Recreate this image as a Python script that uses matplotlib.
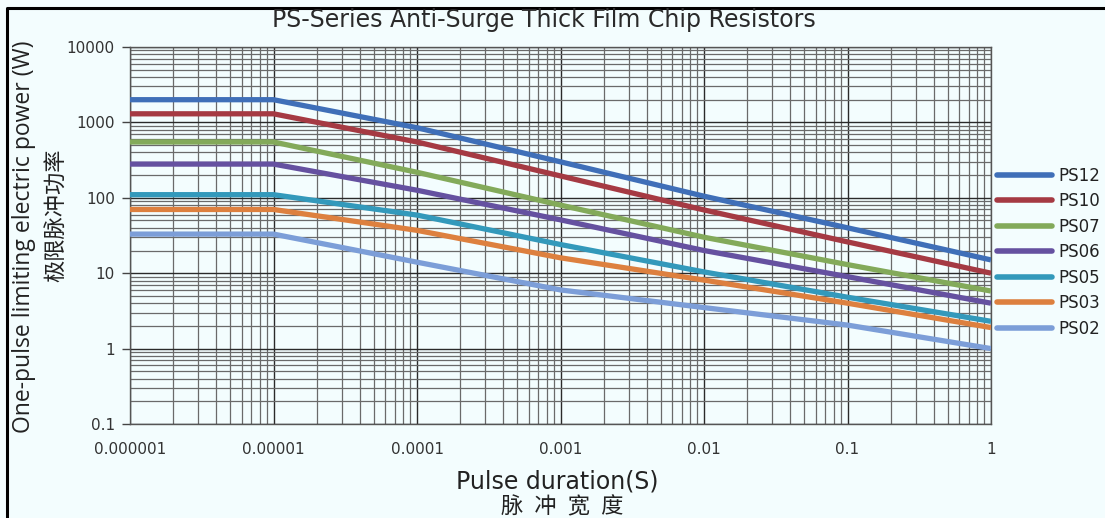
import matplotlib
matplotlib.use("Agg")
import matplotlib.pyplot as plt
from matplotlib.lines import Line2D
from matplotlib.ticker import LogLocator, FixedLocator, NullFormatter

# ---- data ----
pulse_s = [1e-6, 1e-5, 1e-4, 1e-3, 1e-2, 1e-1, 1]
PS12 = [2000, 2000, 850, 300, 105, 40, 15]
PS10 = [1300, 1300, 550, 195, 69, 26, 10]
PS07 = [550, 550, 218, 80, 30, 13, 5.8]
PS06 = [280, 280, 126, 51, 20, 9, 4]
PS05 = [110, 110, 59, 24, 10.4, 4.8, 2.3]
PS03 = [70, 70, 37, 16, 8.1, 4, 1.9]
PS02 = [33, 33, 14, 6, 3.5, 2.05, 1.0]
series_names = ["PS12", "PS10", "PS07", "PS06", "PS05", "PS03", "PS02"]
series_vals = [PS12, PS10, PS07, PS06, PS05, PS03, PS02]
colors = ["#3F6FB8", "#A53A43", "#83AA5A", "#6551A0", "#3399BB", "#DD803F", "#7C9ED8"]
x_ticks = [1e-6, 1e-5, 1e-4, 1e-3, 1e-2, 1e-1, 1]
x_ticklabels = ["0.000001", "0.00001", "0.0001", "0.001", "0.01", "0.1", "1"]
y_ticks = [0.1, 1, 10, 100, 1000, 10000]
y_ticklabels = ["0.1", "1", "10", "100", "1000", "10000"]

bg = "#F3FDFE"
W, H = 1105, 518
fig = plt.figure(figsize=(W / 100, H / 100), dpi=100, facecolor=bg)
L, R, T, B = 130, 991, 47, 424
ax = fig.add_axes([L / W, 1 - B / H, (R - L) / W, (B - T) / H], facecolor=bg)

ax.set_xscale("log")
ax.set_yscale("log")
ax.set_xlim(1e-6, 1)
ax.set_ylim(0.1, 10000)

for name, vals, c in zip(series_names, series_vals, colors):
    ax.plot(pulse_s, vals, color=c, lw=3.8, solid_joinstyle="round",
            solid_capstyle="butt", label=name, zorder=3)

ax.xaxis.set_major_locator(FixedLocator(x_ticks))
ax.yaxis.set_major_locator(FixedLocator(y_ticks))
ax.xaxis.set_minor_locator(LogLocator(base=10, subs=range(2, 10), numticks=20))
ax.yaxis.set_minor_locator(LogLocator(base=10, subs=range(2, 10), numticks=20))
ax.xaxis.set_minor_formatter(NullFormatter())
ax.yaxis.set_minor_formatter(NullFormatter())
ax.set_xticklabels(x_ticklabels, family="DejaVu Sans", fontsize=11, color="#333333")
ax.set_yticklabels(y_ticklabels, family="DejaVu Sans", fontsize=11, color="#333333")
ax.grid(True, which="major", color="#2a2a2a", lw=1.0, zorder=1)
ax.grid(True, which="minor", color="#6a6a6a", lw=0.9, zorder=1)
ax.tick_params(axis="x", which="both", length=0, pad=13)
ax.tick_params(axis="y", which="major", length=6, width=1.0, color="#444444", pad=5)
ax.tick_params(axis="y", which="minor", length=0)
for s in ax.spines.values():
    s.set_color("#555555")
    s.set_linewidth(1.0)

leg = ax.legend(loc="upper left", bbox_to_anchor=(1.007, 0.683), frameon=False,
                handlelength=3.3, handletextpad=0.38, labelspacing=0.45,
                borderaxespad=0, borderpad=0,
                prop={"family": "DejaVu Sans", "size": 12})
for h in leg.get_lines():
    h.set_linewidth(4)
    h.set_solid_capstyle("round")
for t in leg.get_texts():
    t.set_color("#222222")

# titles / labels
fig.text(544 / W, 1 - 20 / H, "PS-Series Anti-Surge Thick Film Chip Resistors",
         ha="center", va="center", fontsize=17, family="DejaVu Sans", color="#2a2a2a")
fig.text(24 / W, 1 - 237 / H, "One-pulse limiting electric power (W)", rotation=90,
         ha="center", va="center", fontsize=16.5, family="Open Sans", color="#222222")
fig.text(57 / W, 1 - 215 / H, "极限脉冲功率", rotation=90,
         ha="center", va="center", fontsize=16, family=["Noto Sans CJK SC", "DejaVu Sans"], color="#222222")
fig.text(557 / W, 1 - 481 / H, "Pulse duration(S)",
         ha="center", va="center", fontsize=17, family="DejaVu Sans", color="#222222")
fig.text(562 / W, 1 - 507 / H, "脉\u2002冲\u2002宽\u2002度",
         ha="center", va="center", fontsize=16, family=["Noto Sans CJK SC", "DejaVu Sans"], color="#222222")

# black frame on left and top
fig.add_artist(Line2D([7 / W, 7 / W, 1], [0, 1 - 8 / H, 1 - 8 / H],
                      transform=fig.transFigure, color="black", lw=2.2))

fig.savefig("out.png", dpi=100, facecolor=bg)
